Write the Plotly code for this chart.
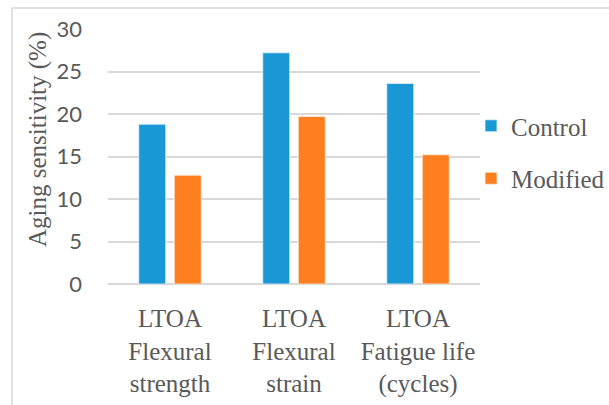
import plotly.graph_objects as go

categories = ["LTOA<br>Flexural<br>strength", "LTOA<br>Flexural<br>strain", "LTOA<br>Fatigue life<br>(cycles)"]
control = [18.8, 27.2, 23.6]
modified = [12.8, 19.7, 15.2]
y_ticks = [0, 5, 10, 15, 20, 25, 30]
y_title = "Aging sensitivity (%)"

BLUE = "#1a98d5"
ORANGE = "#fe7f1f"
GRAY_TXT = "#595959"
GRID = "#d9d9d9"

fig = go.Figure()
fig.add_trace(go.Bar(name="Control", x=categories, y=control, marker_color=BLUE,
                     marker_line=dict(color="#e8f4fb", width=0.8), legendgroup="a"))
fig.add_trace(go.Bar(name="Modified", x=categories, y=modified, marker_color=ORANGE,
                     marker_line=dict(color="#fff0e4", width=0.8), legendgroup="b"))

L, R, T, B = 108, 129, 29, 121
W, H = 609, 405
pw, ph = W - L - R, H - T - B

def px_x(px):
    return (px - L) / pw

def px_y(py):
    return (H - B - py) / ph

fig.update_layout(
    width=W, height=H,
    margin=dict(l=L, r=R, t=T, b=B, pad=0, autoexpand=False),
    paper_bgcolor="white", plot_bgcolor="white",
    barmode="group", bargap=0.427, bargroupgap=0.24,
    showlegend=True,
    legend=dict(xref="container", yref="container", x=471 / W, y=1 - 152 / H,
                xanchor="left", yanchor="middle",
                font=dict(family="Liberation Serif", size=25, color=GRAY_TXT),
                tracegroupgap=17, bgcolor="rgba(0,0,0,0)"),
    xaxis=dict(showgrid=False, showline=False, zeroline=False, ticks="", automargin=False,
               tickfont=dict(family="Liberation Serif", size=25, color=GRAY_TXT),
               ticklabelstandoff=17, fixedrange=True),
    yaxis=dict(range=[0, 30], tickvals=y_ticks, showgrid=True, gridcolor=GRID, gridwidth=1.5,
               zeroline=True, zerolinecolor=GRID, zerolinewidth=1.5, showline=False, ticks="",
               automargin=False, fixedrange=True,
               tickfont=dict(family="Lato", size=22, color=GRAY_TXT),
               ticklabelstandoff=25),
    annotations=[
        dict(text=y_title, xref="paper", yref="paper", x=px_x(38), y=px_y(140),
             xanchor="center", yanchor="middle", textangle=-90, showarrow=False,
             font=dict(family="Liberation Serif", size=25, color=GRAY_TXT)),
    ],
    shapes=[
        dict(type="line", xref="paper", yref="paper", x0=px_x(12), x1=px_x(620), y0=px_y(8), y1=px_y(8),
             line=dict(color=GRID, width=1.5)),
        dict(type="line", xref="paper", yref="paper", x0=px_x(12), x1=px_x(12), y0=px_y(8), y1=px_y(420),
             line=dict(color=GRID, width=1.5)),
    ],
)

fig.write_html("out.html", config={"displayModeBar": False},
               post_script="document.body.style.margin='0px';")
